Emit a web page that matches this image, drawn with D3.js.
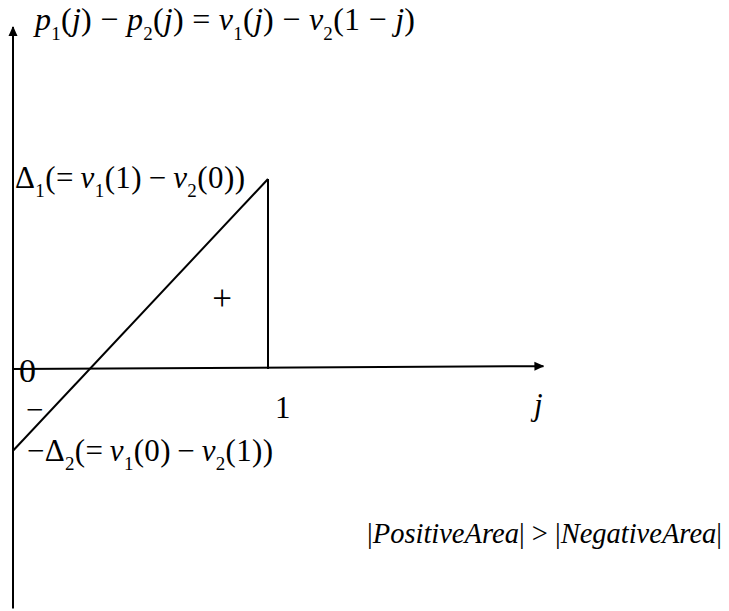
<!DOCTYPE html>
<html>
<head>
<meta charset="utf-8">
<script src="https://cdn.jsdelivr.net/npm/d3@7"></script>
<style>
  html, body { margin: 0; padding: 0; background: #fff; }
  svg { display: block; }
</style>
</head>
<body>
<div id="chart"></div>
<script>
// values (Delta1 = 1 as unit)
const lineJ = [0, 1];
const lineValues = [-0.43, 1];      // -Delta2 at j=0, Delta1 at j=1
const dropJ = [1, 1];
const dropValues = [1, 0];
const xAxisJ = [0, 2.08];
const xAxisValues = [0, 0.015];     // axis is drawn very slightly tilted
const yAxisValues = [-1.26, 1.8];
const xTickLabels = ["1"];

const width = 729, height = 611;
const serif = "Liberation Serif";

const svg = d3.select("#chart").append("svg")
    .attr("width", width)
    .attr("height", height);

const x = d3.scaleLinear().domain([0, 1]).range([13, 268]);
const y = d3.scaleLinear().domain([0, 1]).range([369, 179]);

// arrow head
svg.append("defs").append("marker")
    .attr("id", "arrow")
    .attr("viewBox", "0 0 10 10")
    .attr("refX", 9).attr("refY", 5)
    .attr("markerWidth", 5).attr("markerHeight", 5)
    .attr("markerUnits", "strokeWidth")
    .attr("orient", "auto")
    .append("path")
    .attr("d", "M0,0.5 L10,5 L0,9.5 Z")
    .attr("fill", "#000");

const line = d3.line().x(d => x(d[0])).y(d => y(d[1]));

// y axis
svg.append("path")
    .attr("d", line([[0, yAxisValues[0]], [0, yAxisValues[1]]]))
    .attr("stroke", "#000").attr("stroke-width", 2).attr("fill", "none")
    .attr("marker-end", "url(#arrow)");

// x axis
svg.append("path")
    .attr("d", line(d3.zip(xAxisJ, xAxisValues)))
    .attr("stroke", "#000").attr("stroke-width", 2).attr("fill", "none")
    .attr("marker-end", "url(#arrow)");

// p1 - p2 line
svg.append("path")
    .attr("d", line(d3.zip(lineJ, lineValues)))
    .attr("stroke", "#000").attr("stroke-width", 2).attr("fill", "none");

// vertical drop at j = 1
svg.append("path")
    .attr("d", line(d3.zip(dropJ, dropValues)))
    .attr("stroke", "#000").attr("stroke-width", 2).attr("fill", "none");

function label(px, py, size) {
    return svg.append("text")
        .attr("x", px).attr("y", py)
        .style("font-family", serif)
        .style("font-size", size + "px");
}

// math-like text: parts are [string, kind] with kind i = italic, r = roman, s = subscript
function mathText(px, py, parts, size, len) {
    const t = label(px, py, size);
    const drop = size * 0.3;
    let shifted = false;
    parts.forEach(([str, kind]) => {
        const ts = t.append("tspan").text(str).style("font-family", serif);
        if (kind === "s") {
            ts.style("font-size", Math.round(size * 0.6) + "px")
              .attr("dy", shifted ? 0 : drop);
            shifted = true;
        } else {
            if (shifted) ts.attr("dy", -drop);
            shifted = false;
            if (kind === "i") ts.style("font-style", "italic");
        }
    });
    // only stretch, never squeeze the glyphs together
    if (len && t.node().getComputedTextLength() < len) {
        t.attr("textLength", len).attr("lengthAdjust", "spacing");
    }
    return t;
}

// title of the y axis
mathText(35, 30, [
    ["p", "i"], ["1", "s"], ["(", "r"], ["j", "i"], [")", "r"], [" \u2212 ", "r"],
    ["p", "i"], ["2", "s"], ["(", "r"], ["j", "i"], [")", "r"], [" = ", "r"],
    ["v", "i"], ["1", "s"], ["(", "r"], ["j", "i"], [")", "r"], [" \u2212 ", "r"],
    ["v", "i"], ["2", "s"], ["(1 \u2212 ", "r"], ["j", "i"], [")", "r"]
], 32, 380);

// Delta1 label
mathText(15, y(lineValues[1]) + 9, [
    ["\u0394", "r"], ["1", "s"], ["(=\u2009", "r"], ["v", "i"], ["1", "s"], ["(1)\u2009\u2212\u2009", "r"],
    ["v", "i"], ["2", "s"], ["(0))", "r"]
], 31, 230);

// -Delta2 label
mathText(27, y(lineValues[0]) + 10, [
    ["\u2212\u0394", "r"], ["2", "s"], ["(=\u2009", "r"], ["v", "i"], ["1", "s"], ["(0)\u2009\u2212\u2009", "r"],
    ["v", "i"], ["2", "s"], ["(1))", "r"]
], 31, 246);

// zero and minus near origin
label(19, y(0) + 13, 34).text("0");
label(26, y(0) + 51, 31).text("\u2212");

// tick label 1
svg.selectAll(".xtick").data(xTickLabels).enter().append("text")
    .attr("class", "xtick")
    .attr("x", d => x(+d) + 7).attr("y", y(0) + 49)
    .style("font-family", serif)
    .style("font-size", "31px").text(d => d);

// j axis label
label(534, y(0) + 46, 31).style("font-style", "italic").text("j");

// plus sign in the positive region
label(222, 310, 35).attr("text-anchor", "middle").text("+");

// area comparison
mathText(367, 543, [
    ["|", "r"], ["PositiveArea", "i"], ["| > |", "r"], ["NegativeArea", "i"], ["|", "r"]
], 28.5, 355);
</script>
</body>
</html>
